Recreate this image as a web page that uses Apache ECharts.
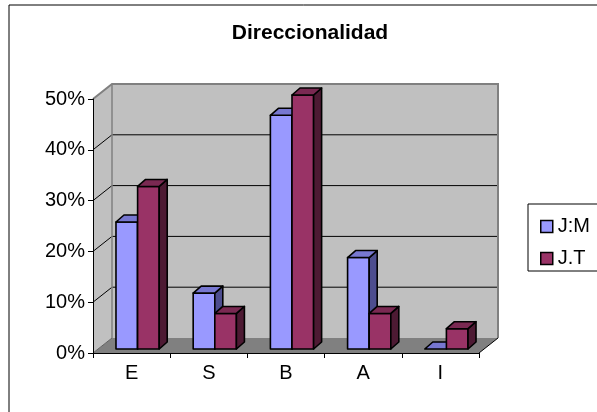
<!DOCTYPE html>
<html>
<head>
<meta charset="utf-8">
<script src="https://cdn.jsdelivr.net/npm/echarts@6/dist/echarts.min.js"></script>
<style>html,body{margin:0;padding:0;background:#fff}#c{width:597px;height:412px}</style>
</head>
<body>
<div id="c"></div>
<script>
const categories = ['E', 'S', 'B', 'A', 'I'];
const seriesNames = ['J:M', 'J.T'];
const valuesJM = [0.25, 0.11, 0.46, 0.18, 0.00];
const valuesJT = [0.32, 0.07, 0.50, 0.07, 0.04];
const yTicks = [0, 0.1, 0.2, 0.3, 0.4, 0.5];
const titleText = 'Direccionalidad';

const FONT = '"Liberation Sans", Arial, sans-serif';
const DX = 19, DY = -15;      // wall depth
const OX = 6, OY = -4;        // bar placement depth
const BDX = 8, BDY = 7;       // bar depth
const yMax = yTicks[yTicks.length - 1];

const faceColors = [
  { front: '#9999FF', top: '#7777D0', side: '#4D4D8F' },
  { front: '#993366', top: '#7A2952', side: '#4D1A33' }
];

function bgRender(params, api) {
  const c0 = api.coord([0, 0]);
  const bw = api.size([1, 0])[0];
  const xL = c0[0] - bw / 2;
  const xR = api.coord([categories.length - 1, 0])[0] + bw / 2;
  const yB = c0[1];
  const yT = api.coord([0, yMax])[1];
  const children = [];
  children.push({ type: 'polygon', shape: { points: [[xL, yB], [xR, yB], [xR + DX, yB + DY], [xL + DX, yB + DY]] },
    style: { fill: '#808080' } });
  children.push({ type: 'polygon', shape: { points: [[xL, yB], [xL, yT], [xL + DX, yT + DY], [xL + DX, yB + DY]] },
    style: { fill: '#C0C0C0' } });
  children.push({ type: 'rect', shape: { x: xL + DX, y: yT + DY, width: xR - xL, height: yB - yT },
    style: { fill: '#C0C0C0' } });
  yTicks.forEach(t => {
    if (t <= 0 || t >= yMax) return;
    const y = api.coord([0, t])[1];
    children.push({ type: 'line', shape: { x1: xL + DX, y1: y + DY, x2: xR + DX, y2: y + DY },
      style: { stroke: '#000', lineWidth: 1 } });
    children.push({ type: 'line', shape: { x1: xL, y1: y, x2: xL + DX, y2: y + DY },
      style: { stroke: '#000', lineWidth: 1 } });
  });
  children.push({ type: 'line', shape: { x1: xL, y1: yB, x2: xL + DX, y2: yB + DY },
    style: { stroke: '#606060', lineWidth: 1 } });
  children.push({ type: 'polyline', shape: { points: [[xL, yT], [xL + DX, yT + DY], [xR + DX, yT + DY], [xR + DX, yB + DY]] },
    style: { stroke: '#808080', lineWidth: 2, fill: 'none' } });
  children.push({ type: 'line', shape: { x1: xL + DX, y1: yT + DY, x2: xL + DX, y2: yB + DY },
    style: { stroke: '#808080', lineWidth: 1.5 } });
  children.push({ type: 'line', shape: { x1: xR, y1: yB, x2: xR + DX, y2: yB + DY },
    style: { stroke: '#000', lineWidth: 1 } });
  return { type: 'group', children };
}

function barRender(params, api) {
  const s = params.seriesIndex - 1;
  const cat = api.value(0), v = api.value(1);
  const c = api.coord([cat, v]);
  const b = api.coord([cat, 0]);
  const bw = api.size([1, 0])[0];
  const w = bw * 0.28;
  const xl = c[0] + OX - w + s * w, xr = xl + w;
  const yt = c[1] + OY, yb = b[1] + OY;
  const col = faceColors[s];
  const st = { stroke: '#000', lineWidth: 1.6, lineJoin: 'round' };
  const children = [];
  if (yb - yt > 0.5) {
    children.push({ type: 'rect', shape: { x: xl, y: yt, width: w, height: yb - yt }, style: Object.assign({ fill: col.front }, st) });
    children.push({ type: 'polygon', shape: { points: [[xr, yt], [xr + BDX, yt - BDY], [xr + BDX, yb - BDY], [xr, yb]] }, style: Object.assign({ fill: col.side }, st) });
  }
  children.push({ type: 'polygon', shape: { points: [[xl, yt], [xl + BDX, yt - BDY], [xr + BDX, yt - BDY], [xr, yt]] }, style: Object.assign({ fill: col.top }, st) });
  return { type: 'group', children };
}

const chart = echarts.init(document.getElementById('c'), null, { renderer: 'canvas' });
chart.setOption({
  animation: false,
  backgroundColor: '#fff',
  title: {
    text: titleText, left: 310, top: 23, textAlign: 'center', padding: 0,
    textStyle: { fontFamily: FONT, fontWeight: 'bold', fontSize: 21, color: '#000' }
  },
  legend: {
    orient: 'vertical', left: 535, top: 211, itemWidth: 12, itemHeight: 12, itemGap: 11,
    icon: 'rect', data: seriesNames,
    itemStyle: { borderColor: '#000', borderWidth: 1.5 },
    textStyle: { fontFamily: FONT, fontSize: 20, color: '#000', lineHeight: 21, padding: [0, 0, 0, 0] }
  },
  graphic: [
    { type: 'rect', shape: { x: 9, y: 5, width: 620, height: 440 }, style: { fill: 'none', stroke: '#000', lineWidth: 1 }, z: 100 },
    { type: 'rect', shape: { x: 528, y: 204, width: 120, height: 67 }, style: { fill: 'none', stroke: '#000', lineWidth: 1 }, z: 100 }
  ],
  grid: { left: 93, right: 118, top: 99, bottom: 59 },
  xAxis: {
    type: 'category', data: categories, z: 10,
    axisLine: { lineStyle: { color: '#000', width: 1 } },
    axisTick: { show: true, length: 5, lineStyle: { color: '#000' } },
    axisLabel: { fontFamily: FONT, fontSize: 20, color: '#000', margin: 10 },
    splitLine: { show: false }
  },
  yAxis: {
    type: 'value', min: 0, max: yMax, interval: 0.1, z: 10,
    axisLine: { show: true, lineStyle: { color: '#000', width: 1 } },
    axisTick: { show: true, length: 5, lineStyle: { color: '#000' } },
    axisLabel: { fontFamily: FONT, fontSize: 20, color: '#000', margin: 8,
      formatter: v => Math.round(v * 100) + '%' },
    splitLine: { show: false }
  },
  series: [
    { type: 'custom', name: '_bg', renderItem: bgRender, data: [[0, 0]], encode: { x: 0, y: 1 }, z: 1, silent: true },
    { type: 'custom', name: seriesNames[0], renderItem: barRender, itemStyle: { color: faceColors[0].front },
      data: categories.map((c, i) => [i, valuesJM[i]]), encode: { x: 0, y: 1 }, z: 3 },
    { type: 'custom', name: seriesNames[1], renderItem: barRender, itemStyle: { color: faceColors[1].front },
      data: categories.map((c, i) => [i, valuesJT[i]]), encode: { x: 0, y: 1 }, z: 4 }
  ]
});
</script>
</body>
</html>
